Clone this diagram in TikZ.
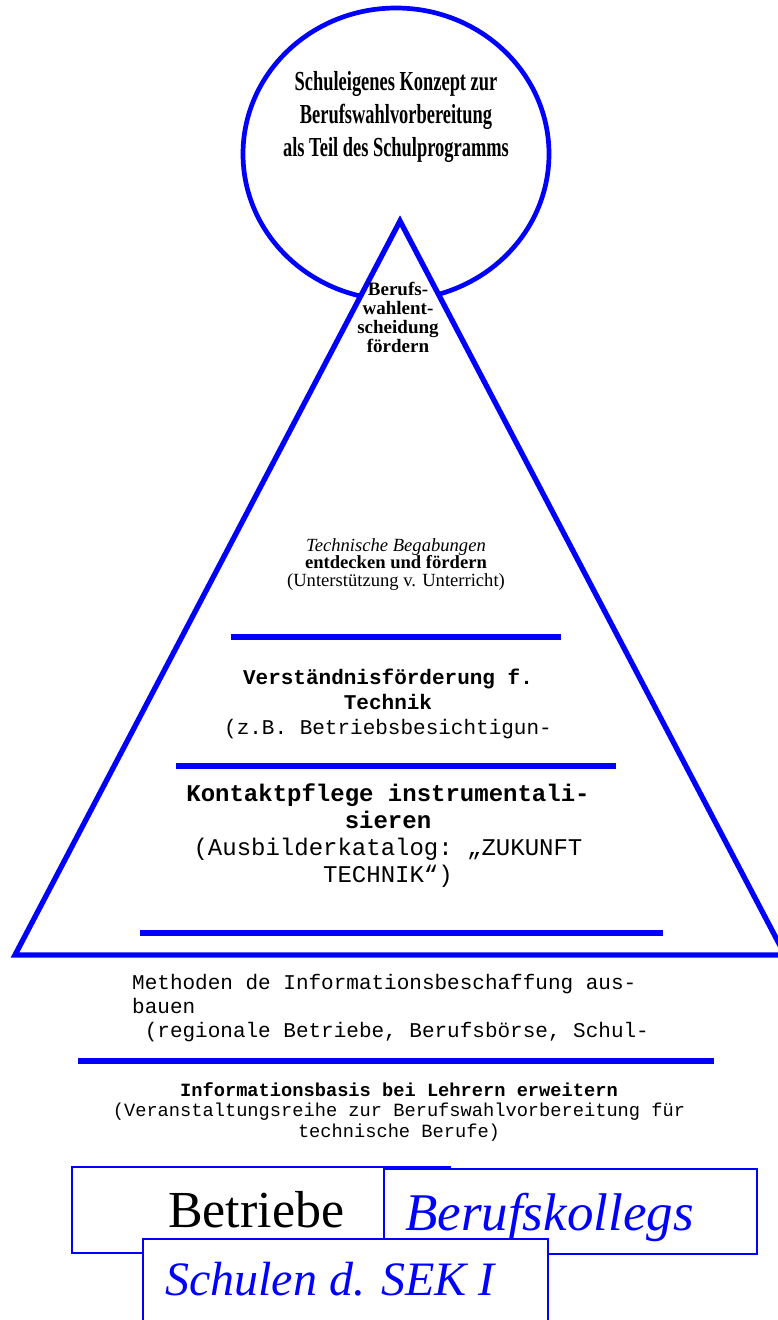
\documentclass[tikz,border=0pt]{standalone}
\usepackage{fontspec}
\setmainfont{Liberation Serif}
\setmonofont{Liberation Mono}
\newfontfamily\narrowfont[FakeStretch=0.67]{Liberation Serif}
\usetikzlibrary{calc}

\begin{document}
\begin{tikzpicture}[
  x=1pt,y=-1pt,
  rim/.style={draw=blue,line width=4.7pt},
  tri/.style={draw=blue,fill=white,line width=5.3pt,line join=miter},
  bar/.style={blue,line width=6pt},
  boxline/.style={draw=blue,fill=white,line width=1.5pt},
  txt/.style={inner sep=0pt,align=center,anchor=base}
]
  \useasboundingbox (0,0) rectangle (778,1320);

  % Headline: the school's own concept (anchored at its last line).
  \draw[rim] (396,154) ellipse [x radius=153,y radius=146];
  \node[txt,font=\narrowfont\bfseries\fontsize{27.5}{33}\selectfont] (konzept)
    at (396,156) {Schuleigenes Konzept zur\\Berufswahlvorbereitung\\als Teil des Schulprogramms};

  % Pyramid, drawn over the circle.
  \draw[tri] (400,221) -- (15,955) -- (785,955) -- cycle;
  \node[txt,font=\bfseries\fontsize{19}{18.7}\selectfont] (spitze)
    at (398,352) {Berufs-\\wahlent-\\scheidung\\fördern};

  % Separating bars between the levels.
  \foreach \y/\xa/\xb in {637/231/561,766/176/616,933/140/663,1061/78/714}
    \draw[bar] (\xa,\y) -- (\xb,\y);

  % Levels, top to bottom.
  \node[txt,font=\fontsize{18.6}{17.5}\selectfont] (begabung)
    at (396,586) {\textit{Technische Begabungen}\\\textbf{entdecken und fördern}\\(Unterstützung v. Unterricht)};
  \node[txt,font=\ttfamily\fontsize{21}{25}\selectfont] (verstaendnis)
    at (388,734) {\textbf{Verständnisförderung f.}\\\textbf{Technik}\\(z.B. Betriebsbesichtigun-};
  \node[txt,font=\ttfamily\fontsize{24}{26.7}\selectfont] (kontakt)
    at (388,882) {\textbf{Kontaktpflege instrumentali-}\\\textbf{sieren}\\(Ausbilderkatalog: „ZUKUNFT\\TECHNIK“)};
  \node[txt,align=left,anchor=base west,font=\ttfamily\fontsize{21}{24}\selectfont] (methoden)
    at (132,1037) {Methoden de Informationsbeschaffung aus-\\bauen\\\ (regionale Betriebe, Berufsbörse, Schul-};
  \node[txt,font=\ttfamily\fontsize{18.7}{20.5}\selectfont] (infobasis)
    at (399,1137) {\textbf{Informationsbasis bei Lehrern erweitern}\\(Veranstaltungsreihe zur Berufswahlvorbereitung für\\technische Berufe)};

  % Partners at the foot.
  \draw[boxline] (72,1167) rectangle (450,1253);
  \node[txt,anchor=base west,font=\fontsize{52}{52}\selectfont] (betriebe)
    at (168,1227) {Betriebe};
  \draw[boxline] (384,1169) rectangle (757,1254);
  \node[txt,anchor=base west,text=blue,font=\itshape\fontsize{53}{53}\selectfont] (kollegs)
    at (405,1230) {Berufskollegs};
  \draw[boxline] (143,1239) rectangle (548,1335);
  \node[txt,anchor=base west,text=blue,font=\itshape\fontsize{48}{48}\selectfont] (schulen)
    at (165,1295) {Schulen d. SEK I};
\end{tikzpicture}
\end{document}
